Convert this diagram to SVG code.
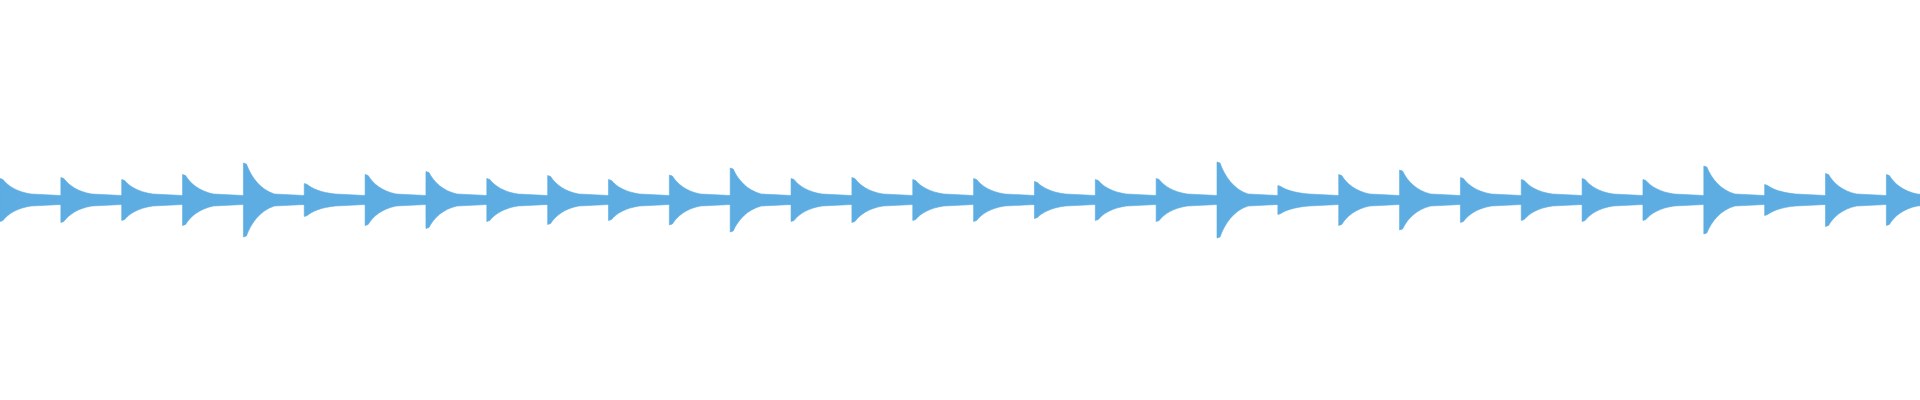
<svg xmlns="http://www.w3.org/2000/svg" width="1920" height="400" viewBox="0 0 1920 400">
<style>.w{fill:#5dade2;stroke:#5dade2;stroke-width:0.6}</style>
<rect width="1920" height="400" fill="#fff"/>
<g id="waveform">
<path class="w" d="
M0,178.5 l3,1 c5,6.53 14,12.33 28,14.5 l29.85,1.5 v9 l-29.85,1.5 c-14,2.18 -23,7.98 -28,14.5 l-3,1 z
M60.85,177.5 l3,1 c5,6.98 14,13.18 28,15.5 l29.85,1.5 v9 l-29.85,1.5 c-14,2.33 -23,8.53 -28,15.5 l-3,1 z
M121.7,179.5 l3,1 c5,6.08 14,11.48 28,13.5 l29.85,1.5 v9 l-29.85,1.5 c-14,2.03 -23,7.43 -28,13.5 l-3,1 z
M182.55,174.5 l3,1 c5,8.33 14,15.73 28,18.5 l29.85,1.5 v9 l-29.85,1.5 c-14,2.78 -23,10.18 -28,18.5 l-3,1 z
M243.4,163 l3,1 c5,13.5 14,25.5 28,30 l29.85,1.5 v9 l-29.85,1.5 c-14,4.5 -23,16.5 -28,30 l-3,1 z
M304.25,183.5 l3,1 c5,4.28 14,8.08 28,9.5 l29.85,1.5 v9 l-29.85,1.5 c-14,1.43 -23,5.23 -28,9.5 l-3,1 z
M365.1,174.5 l3,1 c5,8.33 14,15.73 28,18.5 l29.85,1.5 v9 l-29.85,1.5 c-14,2.78 -23,10.18 -28,18.5 l-3,1 z
M425.95,171.5 l3,1 c5,9.68 14,18.28 28,21.5 l29.85,1.5 v9 l-29.85,1.5 c-14,3.23 -23,11.83 -28,21.5 l-3,1 z
M486.8,178.5 l3,1 c5,6.53 14,12.33 28,14.5 l29.85,1.5 v9 l-29.85,1.5 c-14,2.18 -23,7.98 -28,14.5 l-3,1 z
M547.65,175.5 l3,1 c5,7.88 14,14.88 28,17.5 l29.85,1.5 v9 l-29.85,1.5 c-14,2.63 -23,9.63 -28,17.5 l-3,1 z
M608.5,179.5 l3,1 c5,6.08 14,11.48 28,13.5 l29.85,1.5 v9 l-29.85,1.5 c-14,2.03 -23,7.43 -28,13.5 l-3,1 z
M669.35,175 l3,1 c5,8.1 14,15.3 28,18 l29.85,1.5 v9 l-29.85,1.5 c-14,2.7 -23,9.9 -28,18 l-3,1 z
M730.2,168 l3,1 c5,11.25 14,21.25 28,25 l29.85,1.5 v9 l-29.85,1.5 c-14,3.75 -23,13.75 -28,25 l-3,1 z
M791.05,178.5 l3,1 c5,6.53 14,12.33 28,14.5 l29.85,1.5 v9 l-29.85,1.5 c-14,2.18 -23,7.98 -28,14.5 l-3,1 z
M851.9,177.5 l3,1 c5,6.98 14,13.18 28,15.5 l29.85,1.5 v9 l-29.85,1.5 c-14,2.33 -23,8.53 -28,15.5 l-3,1 z
M912.75,179.5 l3,1 c5,6.08 14,11.48 28,13.5 l29.85,1.5 v9 l-29.85,1.5 c-14,2.03 -23,7.43 -28,13.5 l-3,1 z
M973.6,178.5 l3,1 c5,6.53 14,12.33 28,14.5 l29.85,1.5 v9 l-29.85,1.5 c-14,2.18 -23,7.98 -28,14.5 l-3,1 z
M1034.45,181.5 l3,1 c5,5.18 14,9.78 28,11.5 l29.85,1.5 v9 l-29.85,1.5 c-14,1.73 -23,6.33 -28,11.5 l-3,1 z
M1095.3,179.5 l3,1 c5,6.08 14,11.48 28,13.5 l29.85,1.5 v9 l-29.85,1.5 c-14,2.03 -23,7.43 -28,13.5 l-3,1 z
M1156.15,178.5 l3,1 c5,6.53 14,12.33 28,14.5 l29.85,1.5 v9 l-29.85,1.5 c-14,2.18 -23,7.98 -28,14.5 l-3,1 z
M1217,162 l3,1 c5,13.95 14,26.35 28,31 l29.85,1.5 v9 l-29.85,1.5 c-14,4.65 -23,17.05 -28,31 l-3,1 z
M1277.85,185.5 l3,1 c5,3.38 14,6.38 28,7.5 l29.85,1.5 v9 l-29.85,1.5 c-14,1.13 -23,4.13 -28,7.5 l-3,1 z
M1338.7,174.5 l3,1 c5,8.33 14,15.73 28,18.5 l29.85,1.5 v9 l-29.85,1.5 c-14,2.78 -23,10.18 -28,18.5 l-3,1 z
M1399.55,170 l3,1 c5,10.35 14,19.55 28,23 l29.85,1.5 v9 l-29.85,1.5 c-14,3.45 -23,12.65 -28,23 l-3,1 z
M1460.4,177.5 l3,1 c5,6.98 14,13.18 28,15.5 l29.85,1.5 v9 l-29.85,1.5 c-14,2.33 -23,8.53 -28,15.5 l-3,1 z
M1521.25,179.5 l3,1 c5,6.08 14,11.48 28,13.5 l29.85,1.5 v9 l-29.85,1.5 c-14,2.03 -23,7.43 -28,13.5 l-3,1 z
M1582.1,178.5 l3,1 c5,6.53 14,12.33 28,14.5 l29.85,1.5 v9 l-29.85,1.5 c-14,2.18 -23,7.98 -28,14.5 l-3,1 z
M1642.95,179.5 l3,1 c5,6.08 14,11.48 28,13.5 l29.85,1.5 v9 l-29.85,1.5 c-14,2.03 -23,7.43 -28,13.5 l-3,1 z
M1703.8,166 l3,1 c5,12.15 14,22.95 28,27 l29.85,1.5 v9 l-29.85,1.5 c-14,4.05 -23,14.85 -28,27 l-3,1 z
M1764.65,184.5 l3,1 c5,3.83 14,7.23 28,8.5 l29.85,1.5 v9 l-29.85,1.5 c-14,1.28 -23,4.68 -28,8.5 l-3,1 z
M1825.5,173.5 l3,1 c5,8.78 14,16.58 28,19.5 l29.85,1.5 v9 l-29.85,1.5 c-14,2.93 -23,10.73 -28,19.5 l-3,1 z
M1886.35,174.5 l3,1 c5,8.33 14,15.73 28,18.5 l29.85,1.5 v9 l-29.85,1.5 c-14,2.78 -23,10.18 -28,18.5 l-3,1 z"/>
</g>
</svg>
